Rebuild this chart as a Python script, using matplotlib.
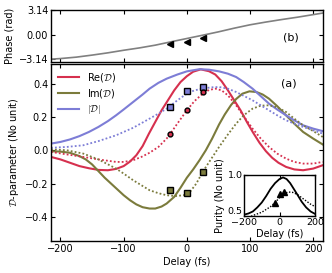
import matplotlib
matplotlib.use("Agg")
import matplotlib.pyplot as plt

# ---------------- data ----------------
re_d = [-215, -200, -185, -170, -155, -140, -125, -112, -100, -90, -80, -70, -60, -50, -40, -30, -20, -10,
        0, 10, 22, 35, 45, 55, 65, 75, 85, 95, 105, 115, 125, 135, 145, 157, 170, 184, 200, 215]
re_v = [-0.040, -0.055, -0.075, -0.095, -0.108, -0.118, -0.120, -0.112, -0.095, -0.068, -0.030, 0.025,
        0.100, 0.170, 0.240, 0.300, 0.360, 0.410, 0.445, 0.472, 0.486, 0.475, 0.455, 0.415, 0.360, 0.300,
        0.240, 0.170, 0.105, 0.045, -0.005, -0.045, -0.075, -0.100, -0.115, -0.120, -0.110, -0.090]

im_d = [-215, -200, -185, -170, -160, -150, -140, -130, -120, -110, -100, -90, -80, -70, -59, -50, -40,
        -32, -20, -10, 0, 10, 20, 30, 40, 51, 60, 70, 78, 88, 99, 110, 120, 130, 143, 157, 170, 184, 200, 215]
im_v = [-0.006, -0.008, -0.015, -0.035, -0.055, -0.085, -0.125, -0.165, -0.200, -0.235, -0.270, -0.300,
        -0.325, -0.342, -0.350, -0.350, -0.338, -0.320, -0.280, -0.225, -0.165, -0.115, -0.060, 0.000,
        0.070, 0.155, 0.215, 0.272, 0.308, 0.340, 0.354, 0.350, 0.335, 0.310, 0.265, 0.210, 0.160, 0.110,
        0.070, 0.035]

ab_d = [-215, -200, -185, -170, -155, -140, -125, -112, -100, -85, -70, -59, -45, -32, -15, 0, 20, 35,
        51, 65, 78, 90, 104, 117, 130, 143, 157, 170, 184, 200, 215]
ab_v = [0.040, 0.050, 0.065, 0.085, 0.110, 0.140, 0.175, 0.210, 0.245, 0.290, 0.335, 0.370, 0.405,
        0.430, 0.455, 0.474, 0.487, 0.484, 0.474, 0.460, 0.440, 0.410, 0.370, 0.325, 0.280, 0.245, 0.210,
        0.180, 0.150, 0.130, 0.115]

re_dot_d = [-215, -190, -164, -140, -112, -100, -85, -72, -59, -45, -32, -26, -16, 0, 12, 25, 35, 45,
            55, 65, 78, 90, 104, 117, 130, 143, 157, 170, 184, 200, 215]
re_dot_v = [-0.010, -0.025, -0.040, -0.055, -0.070, -0.070, -0.060, -0.040, -0.015, 0.020, 0.070, 0.100,
            0.155, 0.240, 0.295, 0.340, 0.362, 0.370, 0.360, 0.330, 0.270, 0.205, 0.130, 0.070, 0.020,
            -0.020, -0.050, -0.070, -0.080, -0.080, -0.070]

im_dot_d = [-215, -190, -164, -140, -112, -100, -85, -72, -59, -45, -32, -18, -5, 5, 15, 25, 38, 51, 65,
            78, 90, 104, 117, 130, 143, 157, 170, 184, 200, 215]
im_dot_v = [0.006, 0.000, -0.020, -0.055, -0.110, -0.140, -0.180, -0.210, -0.240, -0.258, -0.270, -0.275,
            -0.270, -0.250, -0.200, -0.130, -0.055, 0.020, 0.095, 0.160, 0.210, 0.250, 0.268, 0.270, 0.258,
            0.230, 0.190, 0.150, 0.115, 0.080]

ab_dot_d = [-215, -190, -164, -140, -112, -85, -59, -45, -32, -15, 0, 12, 25, 38, 51, 65, 78, 90, 104,
            117, 130, 143, 157, 170, 184, 200, 215]
ab_dot_v = [0.015, 0.020, 0.030, 0.055, 0.090, 0.135, 0.190, 0.220, 0.250, 0.300, 0.340, 0.360, 0.370,
            0.378, 0.380, 0.370, 0.350, 0.327, 0.300, 0.270, 0.240, 0.210, 0.180, 0.160, 0.140, 0.120, 0.100]

phase_d = [-215, -200, -175, -150, -125, -100, -75, -50, -25, 0, 25, 50, 75, 100, 125, 150, 175, 200, 215]
phase_v = [-3.14, -3.06, -2.88, -2.62, -2.33, -2.00, -1.70, -1.35, -0.92, -0.50, -0.08, 0.35, 0.82,
           1.25, 1.60, 1.92, 2.22, 2.55, 2.75]

pt_d = [-26, 0, 25]
pt_abs = [0.26, 0.354, 0.38]
pt_re = [0.10, 0.24, 0.35]
pt_re_err = [0.012, 0.012, 0.012]
pt_im = [-0.24, -0.256, -0.13]
pt_phase = [-1.17, -0.92, -0.41]
pt_purity = [0.65, 0.76, 0.79]

pur_d = [-200, -175, -150, -125, -100, -75, -50, -25, 0, 20, 40, 60, 80, 100, 125, 150, 175, 200]
pur_v = [0.51, 0.525, 0.55, 0.60, 0.66, 0.74, 0.83, 0.90, 0.95, 0.97, 0.95, 0.90, 0.83, 0.76, 0.67,
         0.60, 0.55, 0.52]
pur_dot_d = [-160, -150, -100, -50, -25, 0, 25, 50, 75, 100, 125, 150, 175, 200]
pur_dot_v = [0.49, 0.50, 0.54, 0.61, 0.66, 0.72, 0.77, 0.79, 0.785, 0.76, 0.72, 0.68, 0.64, 0.61]

# ---------------- style ----------------
RED = '#d6304e'
OLV = '#7b7b3c'
BLU = '#7d7dd6'
GRY = '#808080'
DOT = (0, (1, 1.2))
plt.rcParams['font.family'] = ['DejaVu Sans']
plt.rcParams['font.size'] = 7
plt.rcParams['mathtext.fontset'] = 'cm'

W, H = 332, 273
fig = plt.figure(figsize=(W / 100, H / 100), dpi=100)

def box(l, t, r, b):
    return [l / W, 1 - b / H, (r - l) / W, (b - t) / H]

def style(ax):
    ax.tick_params(direction='in', top=True, right=True, length=3, width=0.8, labelsize=7, pad=2)
    for s in ax.spines.values():
        s.set_linewidth(1.0)

# top panel (phase)
axp = fig.add_axes(box(51, 10, 322.7, 62))
axp.plot(phase_d, phase_v, color=GRY, lw=1.2)
axp.plot(pt_d, pt_phase, ls='none', marker='<', color='black', ms=4)
axp.set_xlim(-215, 215)
axp.set_ylim(-3.5, 3.14)
axp.set_yticks([-3.14, 0, 3.14])
axp.set_yticklabels(['\u22123.14', '0.00', '3.14'])
axp.set_xticks([-200, -100, 0, 100, 200])
axp.set_xticklabels([])
axp.set_ylabel('Phase (rad)', labelpad=3)
axp.text(165, -0.34, '(b)', ha='center', va='center', fontsize=8)
style(axp)

# main panel
ax = fig.add_axes(box(51, 63.7, 322.7, 241))
ax.plot(re_d, re_v, color=RED, lw=1.5, label=r'Re($\mathcal{D}$)')
ax.plot(im_d, im_v, color=OLV, lw=1.5, label=r'Im($\mathcal{D}$)')
ax.plot(ab_d, ab_v, color=BLU, lw=1.5, label=r'$|\mathcal{D}|$')
ax.plot(re_dot_d, re_dot_v, color=RED, lw=1.3, ls=DOT)
ax.plot(im_dot_d, im_dot_v, color=OLV, lw=1.3, ls=DOT)
ax.plot(ab_dot_d, ab_dot_v, color=BLU, lw=1.3, ls=DOT)
ax.plot(pt_d, pt_abs, ls='none', marker='s', ms=4, mfc=BLU, mec='black', mew=1.0)
ax.errorbar(pt_d, pt_re, yerr=pt_re_err, ls='none', marker='o', ms=3.5, mfc=RED, mec='black',
            mew=1.0, ecolor='black', elinewidth=0.8, capsize=0)
ax.plot(pt_d, pt_im, ls='none', marker='s', ms=4, mfc=OLV, mec='black', mew=1.0)
ax.set_xlim(-215, 215)
ax.set_ylim(-0.545, 0.52)
ax.set_xticks([-200, -100, 0, 100, 200])
ax.set_xticklabels(['\u2212200', '\u2212100', '0', '100', '200'])
ax.set_yticks([-0.4, -0.2, 0.0, 0.2, 0.4])
ax.set_yticklabels(['\u22120.4', '\u22120.2', '0.0', '0.2', '0.4'])
ax.set_xlabel('Delay (fs)', labelpad=2)
ax.set_ylabel(r'$\mathcal{D}$-parameter (No unit)', labelpad=3)
ax.text(162, 0.40, '(a)', ha='center', va='center', fontsize=8)
ax.legend(loc='upper left', frameon=False, fontsize=7, handlelength=2.2,
          borderaxespad=0.3, labelspacing=0.35, handletextpad=0.8)
style(ax)

# inset (purity)
axi = fig.add_axes(box(244, 175, 315, 215.5))
axi.plot(pur_d, pur_v, color='black', lw=1.3)
axi.plot(pur_dot_d, pur_dot_v, color='black', lw=1.0, ls=DOT)
axi.plot(pt_d, pt_purity, ls='none', marker='^', color='black', ms=4)
axi.set_xlim(-200, 200)
axi.set_ylim(0.5, 1.0)
axi.set_xticks([-200, 0, 200])
axi.set_xticklabels(['\u2212200', '0', '200'])
axi.set_yticks([0.5, 1.0])
axi.set_xlabel('Delay (fs)', labelpad=1)
axi.set_ylabel('Purity (No unit)', labelpad=2)
style(axi)
axi.tick_params(axis='x', pad=2, labelsize=6.8)
axi.tick_params(axis='y', pad=1, labelsize=6.8)
for lab in axi.get_yticklabels():
    lab.set_verticalalignment('bottom' if lab.get_text() == '0.5' else 'center')

fig.savefig('out.png', dpi=100)
